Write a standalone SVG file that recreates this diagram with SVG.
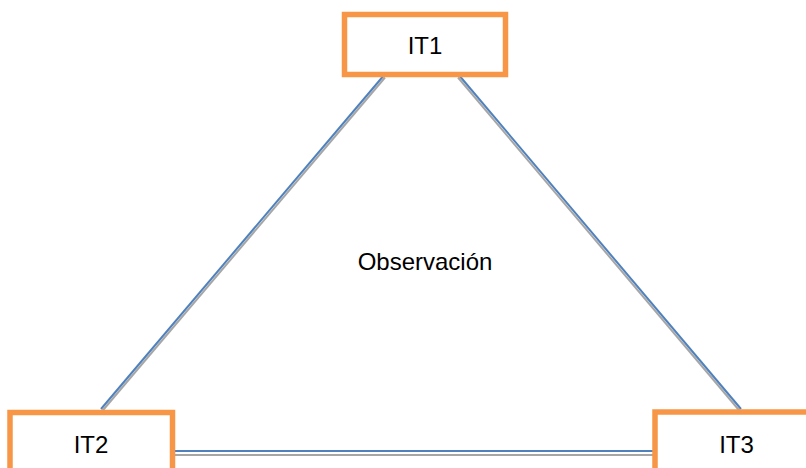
<svg xmlns="http://www.w3.org/2000/svg" width="806" height="468" viewBox="0 0 806 468">
<style>
.box{fill:#ffffff;stroke:#F79646;stroke-width:5.5}
.lbl{font-family:"Liberation Sans",Arial,sans-serif;font-size:24px;fill:#000000;text-anchor:middle}
.blue{stroke:#4F81BD;stroke-width:2;fill:none}
.gray{stroke:#A6A6A6;stroke-width:2;fill:none}
</style>
<rect width="806" height="468" fill="#ffffff"/>
<g id="connectors">
<line class="gray" x1="385" y1="77.5" x2="101" y2="412.5"/>
<line class="blue" x1="385" y1="74" x2="101" y2="409"/>
<line class="gray" x1="458" y1="77.5" x2="741" y2="412.5"/>
<line class="blue" x1="458" y1="74" x2="741" y2="409"/>
<line class="gray" x1="172" y1="455" x2="656" y2="455"/>
<line class="blue" x1="172" y1="451" x2="656" y2="451"/>
</g>
<g id="IT1">
<rect class="box" x="344.5" y="14.5" width="161" height="60"/>
<text class="lbl" x="425" y="54">IT1</text>
</g>
<g id="IT2">
<rect class="box" x="10" y="412.5" width="162.5" height="60"/>
<text class="lbl" x="91" y="453">IT2</text>
</g>
<g id="IT3">
<rect class="box" x="655" y="412" width="162" height="60"/>
<text class="lbl" x="736.5" y="453">IT3</text>
</g>
<g id="center-label">
<text class="lbl" x="425" y="270">Observación</text>
</g>
</svg>
